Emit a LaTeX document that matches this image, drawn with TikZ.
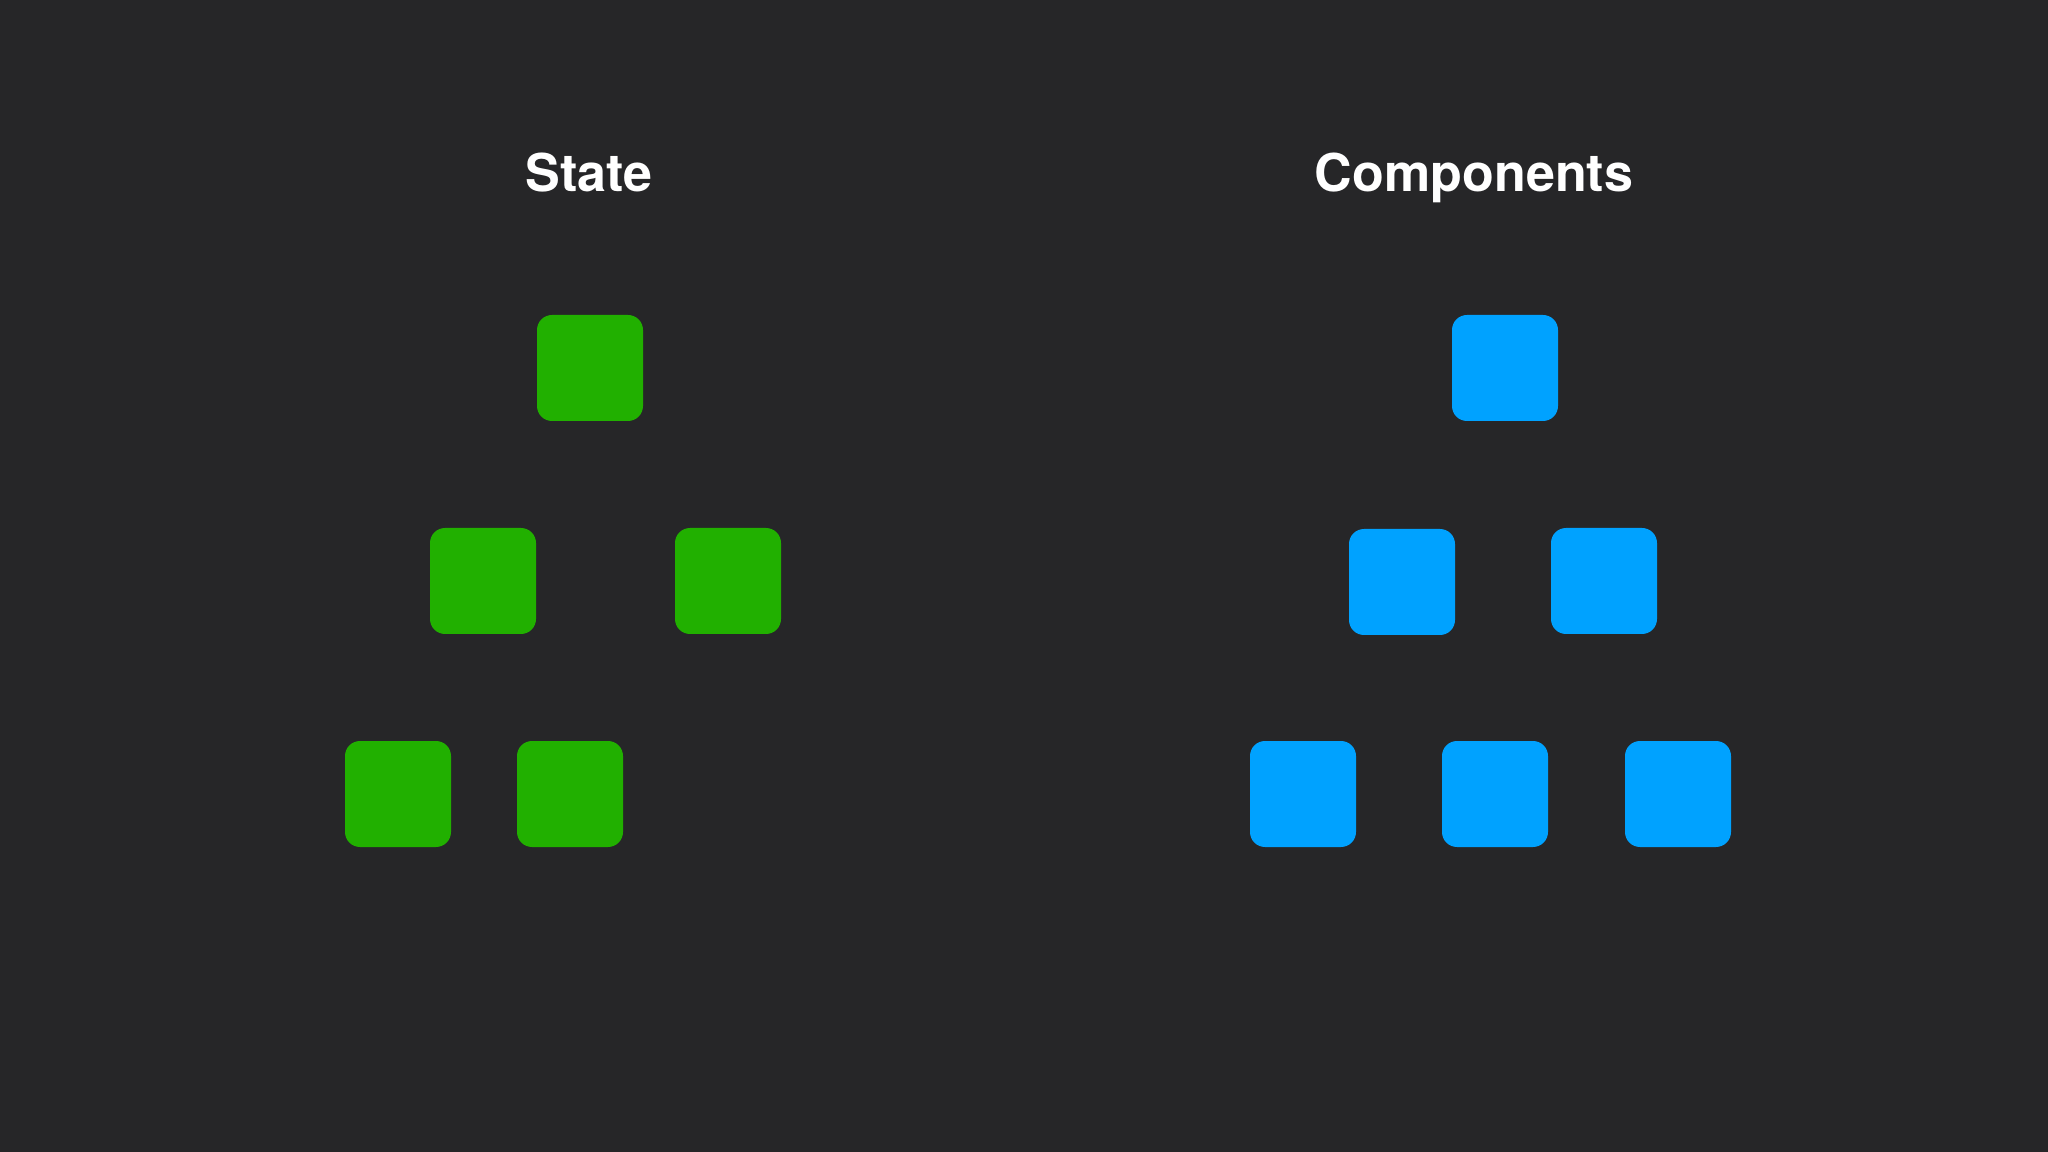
\documentclass[tikz,border=0pt]{standalone}
\usepackage{fontspec}
\newfontfamily\titlefont{TeX Gyre Heros}
\usetikzlibrary{calc}

\definecolor{slidebg}{RGB}{38,38,40}
\definecolor{stategreen}{RGB}{33,176,0}
\definecolor{compblue}{RGB}{0,162,255}

\begin{document}
\begin{tikzpicture}[
  tile/.style={rectangle,rounded corners=0.15cm,inner sep=0pt,minimum size=1.06cm},
  statetile/.style={tile,fill=stategreen},
  comptile/.style={tile,fill=compblue},
  heading/.style={anchor=base,text=white,font=\titlefont\bfseries\fontsize{14.8}{18}\selectfont}
]
% Slide background fixes the size of the page
\fill[slidebg] (0,0) rectangle (20.48,-11.52);
\useasboundingbox (0,0) rectangle (20.48,-11.52);
% Headings
\node[heading] (statetitle) at (5.89,-1.92) {State};
\node[heading] (comptitle) at (14.74,-1.92) {Components};
% State tree, top row
\node[statetile] (s1) at (5.90,-3.68) {};
% State tree, middle row
\node[statetile] (s2) at (4.83,-5.81) {};
\node[statetile] (s3) at (7.28,-5.81) {};
% State tree, bottom row
\node[statetile] (s4) at (3.98,-7.94) {};
\node[statetile] (s5) at (5.70,-7.94) {};
% Component tree, top row
\node[comptile] (c1) at (15.05,-3.68) {};
% Component tree, middle row
\node[comptile] (c2) at (14.02,-5.82) {};
\node[comptile] (c3) at (16.04,-5.81) {};
% Component tree, bottom row
\node[comptile] (c4) at (13.03,-7.94) {};
\node[comptile] (c5) at (14.95,-7.94) {};
\node[comptile] (c6) at (16.78,-7.94) {};
\end{tikzpicture}
\end{document}
